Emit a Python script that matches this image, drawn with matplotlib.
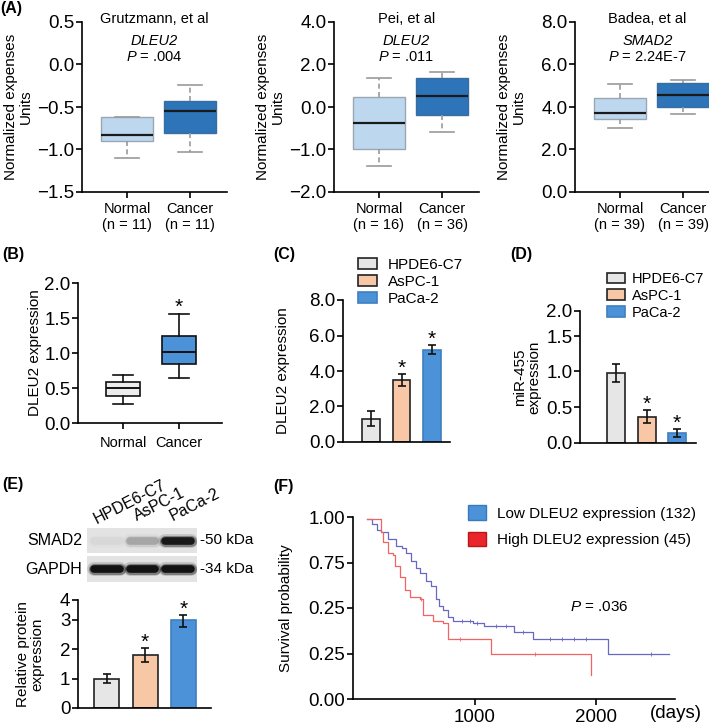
import numpy as np
import matplotlib
matplotlib.use("Agg")
import matplotlib.pyplot as plt
from matplotlib.patches import Patch

plt.rcParams["font.family"] = ["Liberation Sans", "DejaVu Sans"]
plt.rcParams["mathtext.fontset"] = "custom"
plt.rcParams["mathtext.it"] = "Liberation Sans:italic"
plt.rcParams["mathtext.rm"] = "Liberation Sans"
plt.rcParams["axes.linewidth"] = 1.2

# ---- (A) public datasets: whislo, q1, median, q3, whishi
a_titles = ["Grutzmann, et al", "Pei, et al", "Badea, et al"]
a_genes = ["DLEU2", "DLEU2", "SMAD2"]
a_pvals = [".004", ".011", "2.24E-7"]
a_groups = [["Normal\n(n = 11)", "Cancer\n(n = 11)"],
            ["Normal\n(n = 16)", "Cancer\n(n = 36)"],
            ["Normal\n(n = 39)", "Cancer\n(n = 39)"]]
a_normal = [[-1.10, -0.90, -0.83, -0.62, -0.62],
            [-1.39, -1.00, -0.38, 0.46, 1.36],
            [3.00, 3.42, 3.70, 4.41, 5.07]]
a_cancer = [[-1.03, -0.81, -0.55, -0.43, -0.24],
            [-0.59, -0.20, 0.50, 1.36, 1.66],
            [3.66, 3.99, 4.56, 5.12, 5.27]]
a_yticks = [[-1.5, -1.0, -0.5, 0.0, 0.5],
            [-2.0, -1.0, 0.0, 2.0, 4.0],
            [0.0, 2.0, 4.0, 6.0, 8.0]]

# ---- (B) tissue
b_groups = ["Normal", "Cancer"]
b_normal = [0.27, 0.38, 0.50, 0.59, 0.69]
b_cancer = [0.65, 0.85, 1.02, 1.24, 1.56]
b_yticks = [0.0, 0.5, 1.0, 1.5, 2.0]

# ---- (C), (D), (E) cell lines
cells = ["HPDE6-C7", "AsPC-1", "PaCa-2"]
c_mean = [1.3, 3.5, 5.2]
c_err = [0.42, 0.33, 0.26]
c_yticks = [0.0, 2.0, 4.0, 6.0, 8.0]
d_mean = [0.98, 0.37, 0.14]
d_err = [0.13, 0.09, 0.06]
d_yticks = [0.0, 0.5, 1.0, 1.5, 2.0]
e_mean = [1.0, 1.8, 3.0]
e_err = [0.14, 0.23, 0.24]
e_yticks = [0, 1, 2, 3, 4]
signif = [False, True, True]

blot_rows = ["SMAD2", "GAPDH"]
blot_sizes = ["-50 kDa", "-34 kDa"]
blot_intensity = [[0.03, 0.2, 0.95], [1.0, 1.0, 1.0]]

# ---- (F) survival
low_days = [118, 160, 200, 233, 290, 356, 400, 438, 480, 520, 548, 600, 644, 685,
            710, 740, 781, 822, 986, 1082, 1329, 1479, 2096, 2603]
low_surv = [0.99, 0.96, 0.93, 0.92, 0.88, 0.84, 0.83, 0.80, 0.76, 0.72, 0.69, 0.65,
            0.62, 0.55, 0.51, 0.49, 0.45, 0.43, 0.42, 0.40, 0.37, 0.33, 0.25, 0.25]
high_days = [118, 233, 247, 288, 329, 342, 384, 425, 466, 548, 575, 658, 740, 781,
             1137, 1959]
high_surv = [0.99, 0.92, 0.86, 0.80, 0.79, 0.73, 0.67, 0.60, 0.56, 0.55, 0.46, 0.43,
             0.42, 0.33, 0.25, 0.13]
low_censor = [900, 960, 1020, 1180, 1260, 1400, 1620, 1720, 1820, 1920, 2450]
high_censor = [560, 880, 1500]
f_yticks = [0.0, 0.25, 0.5, 0.75, 1.0]
f_yticklabels = ["0.00", "0.25", "0.25", "0.75", "1.00"]
n_low, n_high = 132, 45

W, H = 709, 728
fig = plt.figure(figsize=(W / 100, H / 100), dpi=100)


def px_axes(x0, y0, x1, y1):
    return fig.add_axes([x0 / W, 1 - y1 / H, (x1 - x0) / W, (y1 - y0) / H])


def style(ax):
    for s in ["top", "right"]:
        ax.spines[s].set_visible(False)
    ax.tick_params(axis="y", labelsize=13.5, length=4, width=1.2, pad=1.5)
    ax.tick_params(axis="x", length=4, width=1.2)


def squeeze(ax, labels, spots):
    labels = np.asarray(labels, float)
    spots = np.asarray(spots, float)
    ax.set_yscale("function", functions=(lambda v: np.interp(v, labels, spots),
                                         lambda p: np.interp(p, spots, labels)))


def fmt(v, nd=1):
    return f"{v:.{nd}f}".replace("-", "\u2212")


def stat(v):
    return dict(whislo=v[0], q1=v[1], med=v[2], q3=v[3], whishi=v[4])


blue = "#4b92d8"
faces = ["#e6e6e6", "#f8c8a6", blue]
edges = ["#222222", "#222222", "#3f7fbf"]

# ---------------- (A)
a_left = [82, 334, 575]
for k in range(3):
    ax = px_axes(a_left[k], 22, a_left[k] + 145, 192)
    style(ax)
    squeeze(ax, a_yticks[k], range(5))
    bp = ax.bxp([stat(a_normal[k]), stat(a_cancer[k])], positions=[1, 2], widths=0.83,
                capwidths=0.38, patch_artist=True, showfliers=False,
                medianprops=dict(color="#1a1a1a", linewidth=1.6),
                whiskerprops=dict(color="#9a9a9a", linestyle=(0, (3, 2)), linewidth=1.2),
                capprops=dict(color="#9a9a9a", linewidth=1.2))
    for patch, fc, ec in zip(bp["boxes"], ["#bdd7ef", "#2d74b8"], ["#9aa6b2", "#3c6d9c"]):
        patch.set_facecolor(fc)
        patch.set_edgecolor(ec)
        patch.set_linewidth(1.0)
    ax.set_xlim(0.286, 2.587)
    ax.set_ylim(a_yticks[k][0], a_yticks[k][-1])
    ax.set_yticks(a_yticks[k])
    ax.set_yticklabels([fmt(v) for v in a_yticks[k]])
    ax.set_xticks([1, 2])
    ax.set_xticklabels(a_groups[k], fontsize=10.5, linespacing=1.15)
    ax.tick_params(axis="x", pad=3.5)
    ax.set_ylabel("Normalized expenses\nUnits", fontsize=11, linespacing=1.1)
    ax.yaxis.set_label_coords(-0.34, 0.5)
    ax.text(0.5, 1.02, a_titles[k], transform=ax.transAxes, ha="center", va="center", fontsize=10.5)
    ax.text(0.5, 0.888, a_genes[k], transform=ax.transAxes, ha="center", va="center",
            fontsize=10.5, style="italic")
    ax.text(0.5, 0.794, "$P$ = " + a_pvals[k], transform=ax.transAxes, ha="center",
            va="center", fontsize=10.5)

# ---------------- (B)
ax = px_axes(78, 283, 222, 423)
style(ax)
bp = ax.bxp([stat(b_normal), stat(b_cancer)], positions=[1, 2], widths=0.62, capwidths=0.36,
            patch_artist=True, showfliers=False,
            medianprops=dict(color="#111111", linewidth=1.4),
            whiskerprops=dict(color="#111111", linewidth=1.2),
            capprops=dict(color="#111111", linewidth=1.2))
for patch, fc in zip(bp["boxes"], ["#ececec", blue]):
    patch.set_facecolor(fc)
    patch.set_edgecolor("#111111")
    patch.set_linewidth(1.2)
ax.set_xlim(0.196, 2.77)
ax.set_ylim(0, 2)
ax.set_yticks(b_yticks)
ax.set_yticklabels([fmt(v) for v in b_yticks])
ax.set_xticks([1, 2])
ax.set_xticklabels(b_groups, fontsize=10.5)
ax.tick_params(axis="x", pad=5)
ax.set_ylabel("DLEU2 expression", fontsize=11)
ax.yaxis.set_label_coords(-0.25, 0.5)
ax.annotate("*", (2, b_cancer[4]), xytext=(0, 1), textcoords="offset points",
            ha="center", va="baseline", fontsize=15)


# ---------------- bar panels
def bar_panel(ax, mean, err, yticks, labels, ylabel, label_x, xlim, width):
    style(ax)
    x = np.arange(len(mean))
    bars = ax.bar(x, mean, width=width, color=faces, edgecolor=edges, linewidth=1.2)
    ax.errorbar(x, mean, yerr=err, fmt="none", ecolor="#111111", elinewidth=1.2,
                capsize=3, capthick=1.2)
    for xi, m, e, s in zip(x, mean, err, signif):
        if s:
            ax.annotate("*", (xi, m + e), xytext=(0, 0), textcoords="offset points",
                        ha="center", va="baseline", fontsize=15)
    ax.set_xlim(*xlim)
    ax.set_ylim(yticks[0], yticks[-1])
    ax.set_yticks(yticks)
    ax.set_yticklabels(labels)
    ax.set_xticks([])
    ax.set_ylabel(ylabel, fontsize=11, linespacing=1.1)
    ax.yaxis.set_label_coords(label_x, 0.5)
    return bars


ax_c = px_axes(343, 300, 450, 442)
bars = bar_panel(ax_c, c_mean, c_err, c_yticks, [fmt(v) for v in c_yticks],
                 "DLEU2 expression", -0.5, (-0.92, 2.59), 0.58)
leg_kw = dict(loc="upper left", bbox_transform=fig.transFigure, frameon=False,
              handlelength=1.25, handleheight=0.75, labelspacing=0.2,
              borderpad=0, borderaxespad=0)
ax_c.legend(list(bars), cells, bbox_to_anchor=(358 / W, 1 - 258 / H), fontsize=11,
            handletextpad=0.7, **leg_kw)

ax_d = px_axes(580, 311, 696, 443)
squeeze(ax_d, d_yticks, [0, 1, 2, 2.98, 3.69])
bars = bar_panel(ax_d, d_mean, d_err, d_yticks, [fmt(v) for v in d_yticks],
                 "miR-455\nexpression", -0.33, (-1.18, 2.62), 0.59)
ax_d.legend(list(bars), cells, bbox_to_anchor=(607 / W, 1 - 272 / H), fontsize=10.5,
            handletextpad=0.45, **leg_kw)

ax_e = px_axes(78, 600, 211, 708)
squeeze(ax_e, e_yticks, [0, 1, 2, 3, 3.67])
bar_panel(ax_e, e_mean, e_err, e_yticks, [str(v) for v in e_yticks],
          "Relative protein\nexpression", -0.25, (-0.75, 2.72), 0.65)

# western blot strips
for r, (y0, y1) in enumerate([(528, 553), (556, 582)]):
    bl = px_axes(87, y0, 197, y1)
    bl.set_facecolor("#e3e3e3")
    for s in bl.spines.values():
        s.set_visible(False)
    bl.set_xticks([])
    bl.set_yticks([])
    bl.set_xlim(-0.56, 2.54)
    bl.set_ylim(0, 1)
    for i, s in enumerate(blot_intensity[r]):
        for lw, a in [(10, 0.15), (8, 0.4), (5.5, 1.0)]:
            bl.plot([i - 0.36, i + 0.36], [0.5, 0.5], color="#121212", lw=lw,
                    alpha=a * s, solid_capstyle="round")
    fig.text(82 / W, 1 - (y0 + y1) / 2 / H, blot_rows[r], ha="right", va="center", fontsize=11.5)
    fig.text(200 / W, 1 - (y0 + y1) / 2 / H, blot_sizes[r], ha="left", va="center", fontsize=11)

for name, (lx, ly) in zip(cells, [(97, 524), (137, 521), (173, 521)]):
    fig.text(lx / W, 1 - ly / H, name, rotation=27, rotation_mode="anchor",
             ha="left", va="baseline", fontsize=11.5)

# ---------------- (F)
ax_f = px_axes(353, 517, 675, 699)
style(ax_f)
ax_f.step(low_days, low_surv, where="post", color="#6868c4", lw=0.9)
ax_f.step(high_days, high_surv, where="post", color="#f26464", lw=0.9)
for days, surv, cens, col in [(low_days, low_surv, low_censor, "#6868c4"),
                              (high_days, high_surv, high_censor, "#f26464")]:
    idx = np.searchsorted(days, cens, side="right") - 1
    ax_f.plot(cens, np.asarray(surv)[idx], ls="none", marker="|", ms=3, mew=0.6, color=col)
ax_f.set_xlim(0, 2650)
ax_f.set_ylim(0, 1)
ax_f.set_xticks([1000, 2000])
ax_f.tick_params(axis="x", labelsize=13.5, pad=3)
ax_f.set_yticks(f_yticks)
ax_f.set_yticklabels(f_yticklabels)
ax_f.set_ylabel("Survival probability", fontsize=11)
ax_f.yaxis.set_label_coords(-0.186, 0.5)
ax_f.text(0.674, 0.505, "$P$ = .036", transform=ax_f.transAxes, ha="left", va="center",
          fontsize=11)
fig.text(650 / W, 1 - 714 / H, "(days)", ha="left", va="center", fontsize=13.5)
ax_f.legend([Patch(facecolor=blue, edgecolor="#3a78c0"), Patch(facecolor="#e8262b", edgecolor="#c01515")],
            [f"Low DLEU2 expression ({n_low})", f"High DLEU2 expression ({n_high})"],
            loc="upper left", bbox_to_anchor=(468 / W, 1 - 505 / H), bbox_transform=fig.transFigure,
            frameon=False, fontsize=11, handlelength=1.18, handleheight=1.1, handletextpad=0.72,
            labelspacing=0.72, borderpad=0, borderaxespad=0)

# panel letters
for letter, (lx, ly) in zip("ABCDEF", [(0, 8), (2, 255), (273, 255), (510, 255), (2, 485), (273, 487)]):
    fig.text(lx / W, 1 - ly / H, f"({letter})", ha="left", va="center", fontsize=11.5,
             fontweight="bold")

fig.savefig("out.png", dpi=100)
